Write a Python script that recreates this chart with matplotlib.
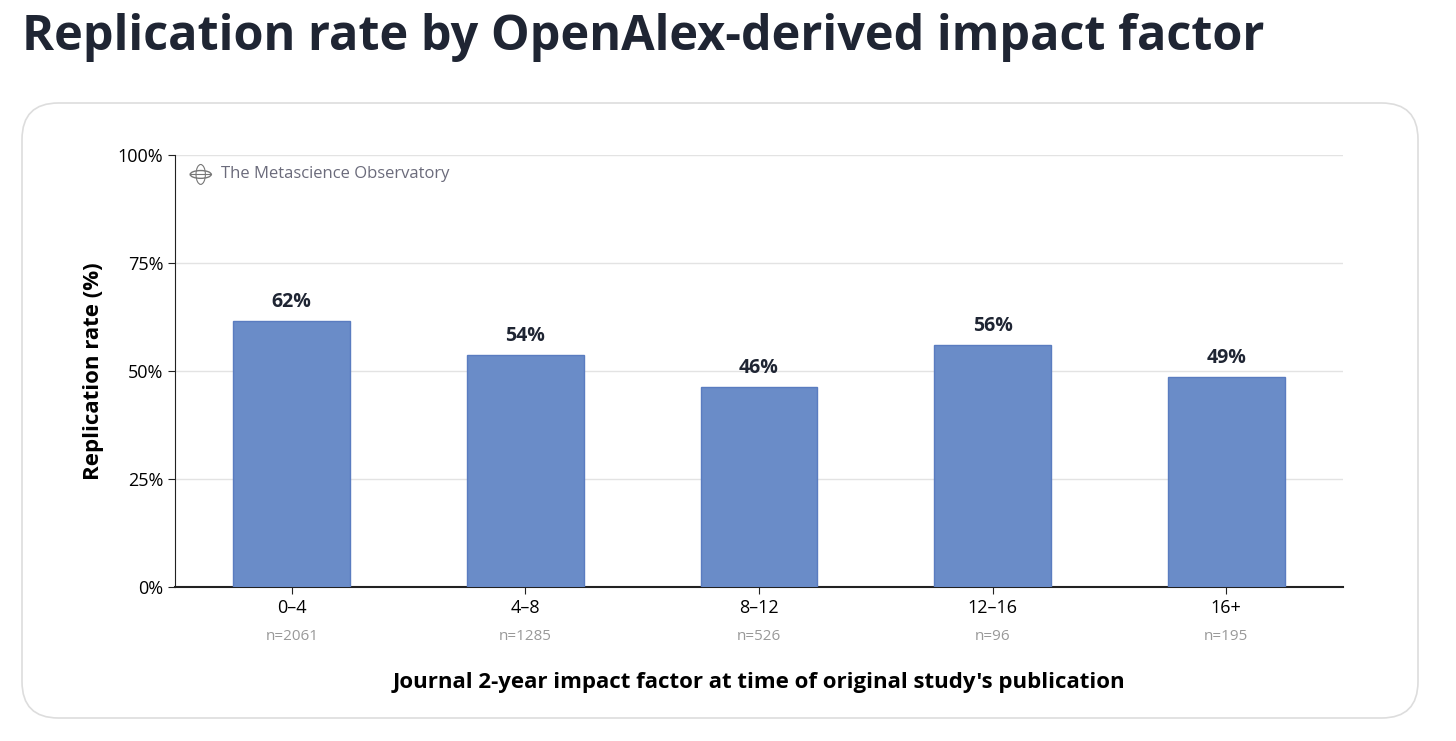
import numpy as np
import matplotlib.pyplot as plt
from matplotlib.patches import FancyBboxPatch, Circle, Ellipse

categories = ['0–4', '4–8', '8–12', '12–16', '16+']
counts = [2061, 1285, 526, 96, 195]
rates = [61.6, 53.7, 46.3, 56.0, 48.6]
labels = ['62%', '54%', '46%', '56%', '49%']

plt.rcParams['font.family'] = ['Open Sans', 'DejaVu Sans']
fig = plt.figure(figsize=(14.56, 7.41), dpi=100)

box = FancyBboxPatch((22 / 1456, 1 - 718 / 741), 1396 / 1456, 615 / 741,
                     boxstyle='round,pad=0,rounding_size=0.025', transform=fig.transFigure,
                     facecolor='white', edgecolor='#dddddd', linewidth=1.2,
                     mutation_aspect=1456 / 741, zorder=-10)
fig.patches.append(box)
fig.text(22 / 1456, 1 - 38 / 741, 'Replication rate by OpenAlex-derived impact factor',
         fontsize=35, fontweight='bold', color='#1f2533', va='center')

ax = fig.add_axes([175 / 1456, 1 - 587 / 741, 1168 / 1456, 432 / 741])
ax.set_facecolor('none')
x = np.arange(len(categories))
ax.bar(x, rates, width=0.5, color='#6a8cc8', edgecolor='#5a7cc0', linewidth=1, zorder=3)
for xi, r, lab in zip(x, rates, labels):
    ax.text(xi, r + 2, lab, ha='center', va='bottom', fontsize=14, fontweight='bold', color='#1f2533')
ax.set_xlim(-0.5, 4.5)
ax.set_ylim(0, 100)
ax.set_yticks([0, 25, 50, 75, 100])
ax.set_yticklabels(['0%', '25%', '50%', '75%', '100%'], fontsize=13)
ax.yaxis.grid(True, color='#e3e3e3', linewidth=1, zorder=0)
ax.set_xticks(x)
ax.set_xticklabels(categories, fontsize=13)
for xi, n in zip(x, counts):
    ax.text(xi, -11.5, f'n={n}', ha='center', va='center', fontsize=11, color='#999999')
for s in ['top', 'right']:
    ax.spines[s].set_visible(False)
ax.spines['left'].set_color('#222222')
ax.spines['bottom'].set_color('#222222')
ax.spines['bottom'].set_linewidth(1.5)
ax.tick_params(length=5, color='#222222')
ax.set_ylabel('Replication rate (%)', fontsize=16, fontweight='bold', labelpad=10)
ax.set_xlabel("Journal 2-year impact factor at time of original study's publication",
              fontsize=16, fontweight='bold', labelpad=40)

# globe icon + watermark
gx, gy = 0.022, 0.955
ax.add_patch(Circle((gx, gy), 0.009, transform=ax.transAxes, fill=False, ec='#777777', lw=1))
ax.add_patch(Ellipse((gx, gy), 0.008, 0.046, transform=ax.transAxes, fill=False, ec='#777777', lw=0.8))
ax.plot([gx - 0.009, gx + 0.009], [gy, gy], transform=ax.transAxes, color='#777777', lw=0.8)
ax.text(0.039, gy, 'The Metascience Observatory', transform=ax.transAxes,
        fontsize=12, color='#6b6b7b', va='center')

fig.savefig('out.png', dpi=100)
